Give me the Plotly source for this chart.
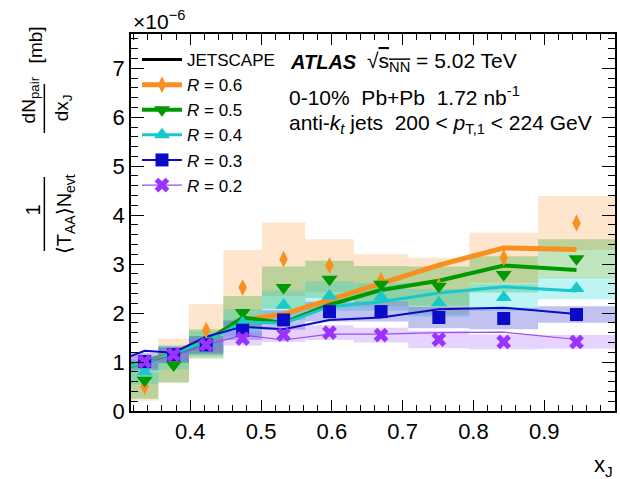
import numpy as np
import plotly.graph_objects as go

# ---------------- data ----------------
edges = [10 ** (-0.5 + 0.05 * k) for k in range(11)]
centers = [(edges[i] + edges[i + 1]) / 2 for i in range(10)]
widths = [edges[i + 1] - edges[i] for i in range(10)]

r06 = [0.50, 1.03, 1.65, 2.52, 3.10, 2.97, 2.67, 2.55, 3.13, 3.84]
r06_sys = [0.29, 0.45, 0.53, 0.77, 0.75, 0.54, 0.53, 0.58, 0.51, 0.55]
r05 = [0.63, 0.94, 1.37, 2.01, 2.52, 2.69, 2.59, 2.55, 2.79, 3.11]
r05_sys = [0.38, 0.36, 0.30, 0.34, 0.43, 0.38, 0.37, 0.40, 0.37, 0.40]
r04 = [0.80, 1.10, 1.38, 1.80, 2.16, 2.35, 2.33, 2.21, 2.32, 2.50]
r04_sys = [0.25, 0.25, 0.25, 0.28, 0.30, 0.30, 0.28, 0.28, 0.27, 0.22]
r03 = [1.01, 1.15, 1.35, 1.65, 1.86, 2.03, 2.03, 1.91, 1.89, 1.97]
r03_sys = [0.18, 0.17, 0.18, 0.20, 0.20, 0.20, 0.20, 0.22, 0.22, 0.17]
r02 = [1.01, 1.15, 1.35, 1.48, 1.56, 1.60, 1.55, 1.46, 1.41, 1.41]
r02_sys = [0.12, 0.13, 0.13, 0.14, 0.15, 0.15, 0.15, 0.18, 0.15, 0.14]

# JETSCAPE curves (first point at the lower x edge)
js_x = [edges[0]] + centers
js06 = [0.93, 1.00, 1.20, 1.45, 1.85, 1.98, 2.27, 2.61, 2.98, 3.33, 3.30]
js05 = [0.92, 1.00, 1.18, 1.42, 1.91, 1.80, 2.17, 2.47, 2.66, 2.97, 2.88]
js04 = [0.92, 1.00, 1.18, 1.42, 1.82, 1.79, 2.13, 2.23, 2.41, 2.54, 2.45]
js03 = [1.12, 1.23, 1.19, 1.52, 1.72, 1.67, 1.86, 1.91, 2.08, 2.11, 1.98]
js02 = [0.98, 1.02, 1.12, 1.35, 1.55, 1.45, 1.57, 1.57, 1.60, 1.61, 1.46]

labels = ["<i>R</i> = 0.6", "<i>R</i> = 0.5", "<i>R</i> = 0.4", "<i>R</i> = 0.3", "<i>R</i> = 0.2"]
x_ticks = [0.4, 0.5, 0.6, 0.7, 0.8, 0.9, 1.0]
x_ticktext = ["0.4", "0.5", "0.6", "0.7", "0.8", "0.9", "1"]
y_ticks = [0, 1, 2, 3, 4, 5, 6, 7]

SCALE = 1e-6

series = [
    dict(v=r06, s=r06_sys, js=js06, col="#f7901e", mcol="#f7901e", box="rgba(248,150,60,0.25)",
         sym="diamond-tall", ms=12, lw=5, label=labels[0]),
    dict(v=r05, s=r05_sys, js=js05, col="#009a00", mcol="#009a00", box="rgba(0,150,0,0.25)",
         sym="triangle-down", ms=14, lw=4, label=labels[1]),
    dict(v=r04, s=r04_sys, js=js04, col="#19c8c8", mcol="#19c8c8", box="rgba(0,210,210,0.25)",
         sym="triangle-up", ms=14, lw=3, label=labels[2]),
    dict(v=r03, s=r03_sys, js=js03, col="#0a0ac8", mcol="#0a0ac8", box="rgba(10,10,200,0.25)",
         sym="square", ms=13, lw=2, label=labels[3]),
    dict(v=r02, s=r02_sys, js=js02, col="#9a4cf0", mcol="#9a33ff", box="rgba(160,80,255,0.25)",
         sym="x", ms=13, lw=1.2, label=labels[4]),
]

FONT = "Liberation Sans, Arial, Helvetica, sans-serif"

fig = go.Figure()

# systematic uncertainty boxes
for s in series:
    lo = [(v - e) * SCALE for v, e in zip(s["v"], s["s"])]
    h = [2 * e * SCALE for e in s["s"]]
    fig.add_trace(go.Bar(x=centers, y=h, base=lo, width=widths,
                         marker=dict(color=s["box"], line=dict(width=0)),
                         showlegend=False, hoverinfo="skip"))

# JETSCAPE curves
for s in series:
    fig.add_trace(go.Scatter(x=js_x, y=[v * SCALE for v in s["js"]], mode="lines",
                             line=dict(color=s["col"], width=s["lw"]),
                             showlegend=False))

# data points
for s in series:
    fig.add_trace(go.Scatter(x=centers, y=[v * SCALE for v in s["v"]], mode="markers",
                             marker=dict(symbol=s["sym"], size=s["ms"], color=s["mcol"],
                                         line=dict(width=0)),
                             showlegend=False))

# legend entries
fig.add_trace(go.Scatter(x=[None], y=[None], mode="lines", name="JETSCAPE",
                         line=dict(color="black", width=3)))
for s in series:
    fig.add_trace(go.Scatter(x=[None], y=[None], mode="lines+markers", name=s["label"],
                             line=dict(color=s["col"], width=s["lw"]),
                             marker=dict(symbol=s["sym"], size=s["ms"], color=s["mcol"],
                                         line=dict(width=0))))

L, R, T, B = 131, 3, 34, 68
W, H = 620, 479
pw, ph = W - L - R, H - T - B


def pxx(x):
    return (x - L) / pw


def pyy(y):
    return (H - B - y) / ph


fig.update_layout(
    width=W, height=H,
    margin=dict(l=L, r=R, t=T, b=B),
    paper_bgcolor="white", plot_bgcolor="white",
    barmode="overlay",
    font=dict(family=FONT, size=17, color="black"),
    showlegend=True,
    legend=dict(x=pxx(137), y=pyy(42), xanchor="left", yanchor="top",
                bgcolor="rgba(0,0,0,0)", font=dict(size=17), itemwidth=40,
                tracegroupgap=0),
)

fig.update_xaxes(range=[edges[0], 1.0], tickvals=x_ticks, ticktext=x_ticktext,
                 ticks="inside", ticklen=11, tickwidth=1, tickcolor="black",
                 showline=True, linecolor="black", linewidth=1.5, mirror="ticks",
                 showgrid=False, zeroline=False,
                 tickfont=dict(size=22, family=FONT),
                 minor=dict(ticks="inside", ticklen=6, dtick=0.02, tick0=0, tickcolor="black",
                            showgrid=False))
fig.update_yaxes(range=[0, 7.7 * SCALE], tickvals=[v * SCALE for v in y_ticks],
                 ticktext=[str(v) for v in y_ticks],
                 ticks="inside", ticklen=13, tickwidth=1, tickcolor="black",
                 showline=True, linecolor="black", linewidth=1.5, mirror="ticks",
                 showgrid=False, zeroline=False,
                 tickfont=dict(size=22, family=FONT),
                 minor=dict(ticks="inside", ticklen=7, dtick=0.2 * SCALE, tick0=0,
                            tickcolor="black", showgrid=False))

ann = []


def add(text, x, y, size=17, xanchor="center", yanchor="middle", angle=0):
    ann.append(dict(text=text, x=pxx(x), y=pyy(y), xref="paper", yref="paper",
                    showarrow=False, xanchor=xanchor, yanchor=yanchor, textangle=angle,
                    font=dict(size=size, family=FONT, color="black")))


add("×10<sup>−6</sup>", 131, 20, size=21, xanchor="left")
add("<b><i>ATLAS</i></b>", 289, 62, size=20, xanchor="left")
add("√<span style='text-decoration:overline'>s<sub>NN</sub></span> = 5.02 TeV", 366, 62, size=21, xanchor="left")
add("0-10%  Pb+Pb  1.72 nb<sup>-1</sup>", 288, 96, size=21, xanchor="left")
add("anti-<i>k</i><sub><i>t</i></sub> jets  200 < <i>p</i><sub>T,1</sub> < 224 GeV", 288, 124,
    size=21, xanchor="left")
add("x<sub>J</sub>", 617, 466, size=22, xanchor="right")

# y-axis title as stacked fractions (rotated)
add("1", 33, 210, size=20, angle=-90)
add("⟨T<sub>AA</sub>⟩N<sub>evt</sub>", 65, 214, size=20, angle=-90)
add("dN<sub>pair</sub>", 30, 100, size=19, angle=-90)
add("dx<sub>J</sub>", 63, 108, size=19, angle=-90)
add("[mb]", 36, 45, size=19, angle=-90)
fig.update_layout(annotations=ann)

shapes = [
    dict(type="line", xref="paper", yref="paper", x0=pxx(44), x1=pxx(44), y0=pyy(177), y1=pyy(251),
         line=dict(color="black", width=1.5)),
    dict(type="line", xref="paper", yref="paper", x0=pxx(44), x1=pxx(44), y0=pyy(84), y1=pyy(133),
         line=dict(color="black", width=1.5)),
]
fig.update_layout(shapes=shapes)

fig.write_html("out.html")
